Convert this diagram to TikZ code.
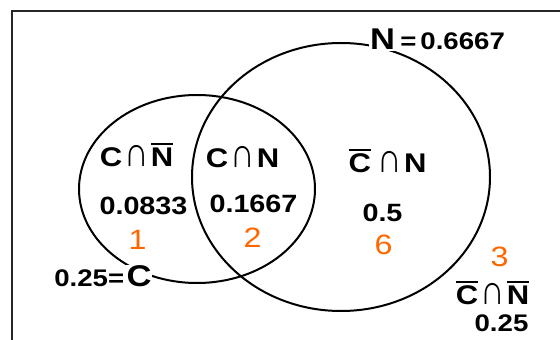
\documentclass[tikz,border=0pt]{standalone}
\usepackage{fontspec}
\setmainfont{Liberation Sans}[FakeStretch=1.15]
\usetikzlibrary{calc}
\definecolor{regionorange}{RGB}{255,102,0}
\tikzset{
  ring/.style={draw=black,line width=2pt},
  frame line/.style={draw=black!85,line width=2.4pt},
  set label/.style={font=\fontsize{27}{27}\selectfont\bfseries,anchor=base,inner sep=0pt},
  prob label/.style={font=\fontsize{25}{25}\selectfont\bfseries,anchor=base,inner sep=0pt},
  small prob/.style={font=\fontsize{24}{24}\selectfont\bfseries,inner sep=0pt},
  big set/.style={font=\fontsize{30}{30}\selectfont\bfseries,fill=white,inner sep=1pt},
  region/.style={font=\fontsize{28}{28}\selectfont,text=regionorange,anchor=base,inner sep=0pt},
}
\newcommand\ovl[1]{\vbox{\hrule height 1.8pt\kern 3.5pt\hbox{#1}}}
\newcommand\capsign{\kern2pt\scalebox{1.1}[1.55]{\mdseries ∩}\kern2pt}

\begin{document}
\begin{tikzpicture}[x=1pt,y=1pt]
        \useasboundingbox (0,0) rectangle (560,340);

        \def\rxC{118} % small set C
        \def\ryC{94}
        \def\rxN{149} % large set N
        \def\ryN{134}
        \coordinate (Cc) at (197,151);
        \coordinate (Nc) at (341,163);

        % FRAME
        \draw[frame line] (560,329) -- (12,329) -- (12,0);

        % SETS
        \draw[ring] (Cc) ellipse [x radius=\rxC, y radius=\ryC];
        \draw[ring] (Nc) ellipse [x radius=\rxN, y radius=\ryN];

        % set names on the outlines
        \node[big set, anchor=base] (N) at (382.5,290) {N};
        \node[small prob, anchor=base west] (Nval) at ($(N.base east)+(4,0)$) {=\,0.6667};
        \node[big set, anchor=base] (C) at (139,53) {C};
        \node[small prob, anchor=base east] (Cval) at ($(C.base west)+(-1,0)$) {0.25=};

        % REGIONS
        \node[set label] (CnN) at (136.5,173) {C\capsign\ovl{N}};
        \node[prob label] (pCnN) at (143.5,125) {0.0833};
        \node[region] (r1) at (137.5,90) {1};

        \node[set label] (CN) at (242.5,172) {C\capsign N};
        \node[prob label] (pCN) at (253.5,127) {0.1667};
        \node[region] (r2) at (252.5,92) {2};

        \node[set label] (nCN) at (387.5,167) {\ovl{C}\,\capsign N};
        \node[prob label] (pnCN) at (382.5,118) {0.5};
        \node[region] (r6) at (383.5,85) {6};

        \node[region] (r3) at (499.5,73) {3};
        \node[set label] (nCnN) at (492.5,35) {\ovl{C}\capsign\ovl{N}};
        \node[small prob, anchor=base] (pnCnN) at (501.5,8) {0.25};

\end{tikzpicture}
\end{document}
